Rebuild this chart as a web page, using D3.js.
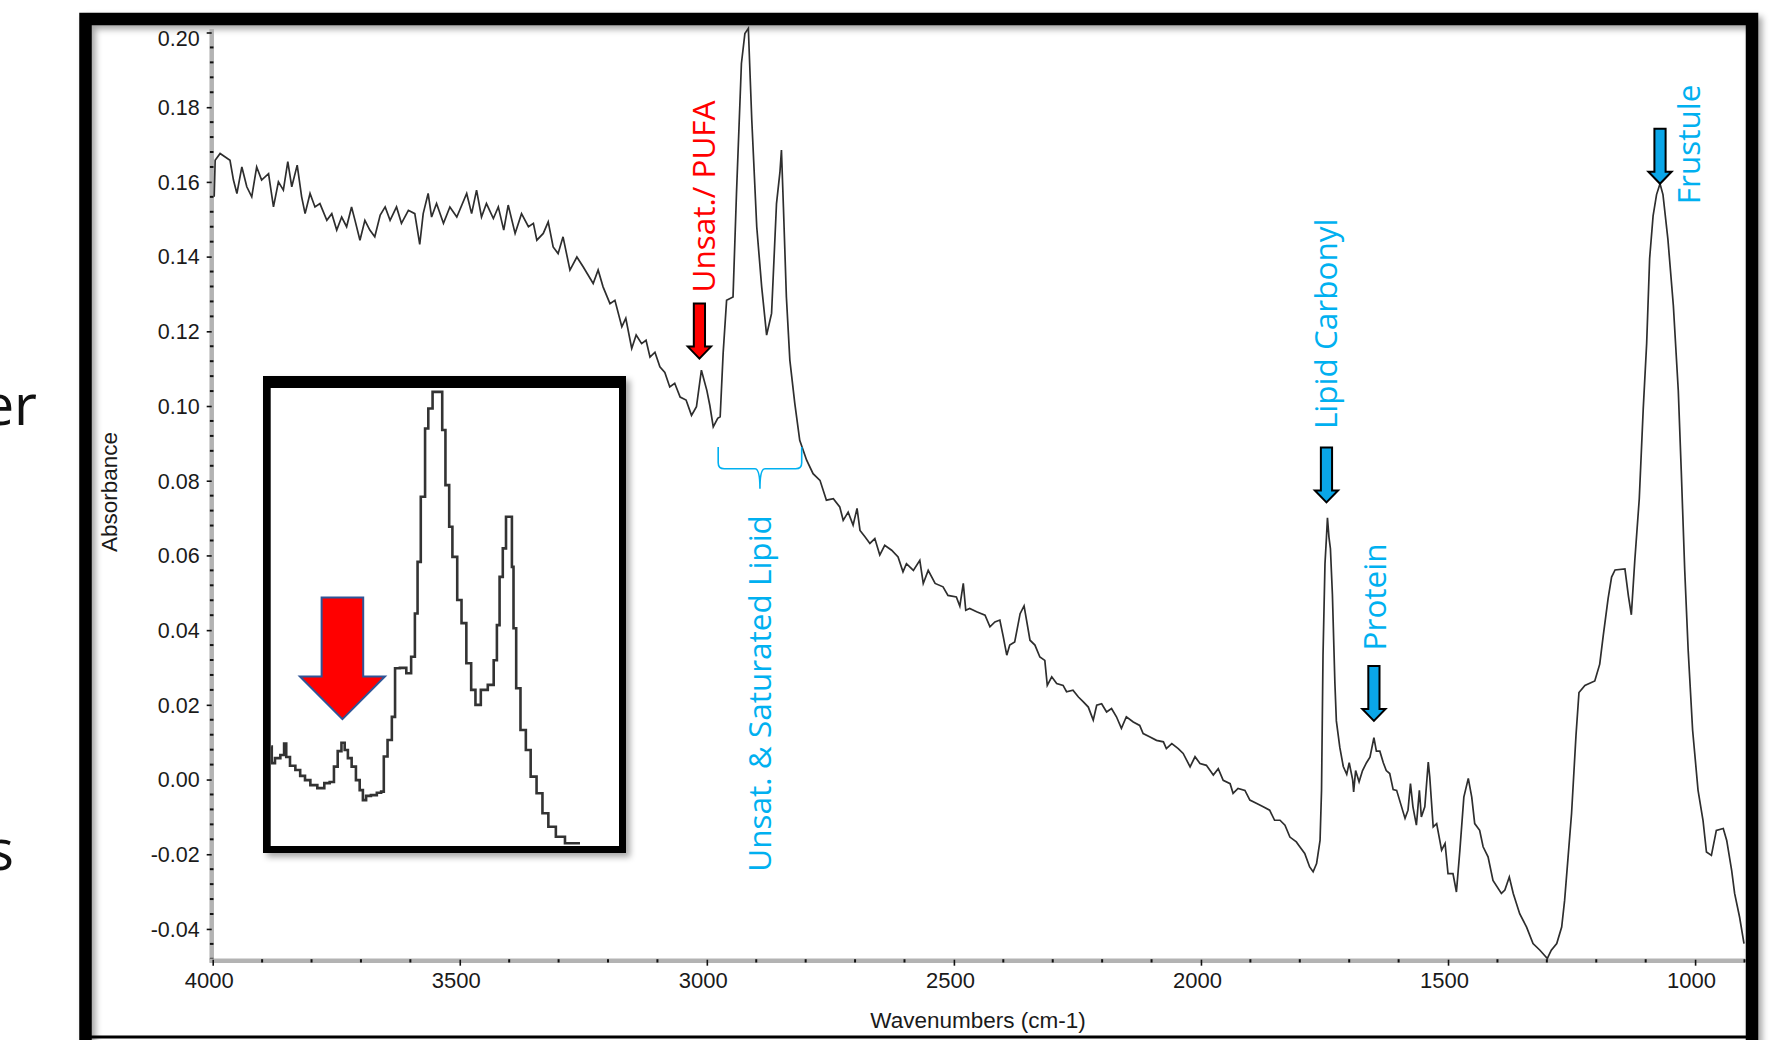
<!DOCTYPE html>
<html><head><meta charset="utf-8">
<script src="https://cdn.jsdelivr.net/npm/d3@7"></script>
<style>
html,body{margin:0;padding:0;background:#fff;overflow:hidden;}
svg{display:block;}
</style></head>
<body>
<svg id="chart" width="1791" height="1040"></svg>
<script>
// ---------------- DATA ----------------
const wavenumbers = [
3997,3995,3985,3965,3958,3951,3941,3931,3921,3911,3901,3887,3877,3867,3857,3848,3840,3829,3820,3813,
3803,3793,3783,3769,3759,3749,3739,3729,3719,3712,3702,3692,3682,3672,3661,3651,3641,3628,3618,3604,
3591,3581,3574,3564,3557,3547,3533,3520,3506,3486,3476,3466,3456,3446,3432,3422,3411,3402,3388,3375,
3361,3351,3344,3331,3321,3311,3301,3291,3277,3263,3250,3230,3220,3210,3196,3186,3172,3164,3152,3143,
3132,3123,3115,3105,3095,3085,3075,3065,3054,3042,3031,3021,3011,3000,2994,2987,2978,2973,2967,2960,
2947,2940,2930,2923,2916,2909,2899,2889,2879,2869,2859,2852,2849,2845,2839,2832,2822,2812,2798,2785,
2771,2758,2744,2731,2724,2714,2704,2696,2690,2680,2670,2660,2650,2640,2626,2613,2603,2596,2582,2569,
2562,2552,2538,2522,2512,2495,2488,2481,2476,2468,2454,2437,2427,2417,2407,2400,2393,2387,2377,2366,
2358,2353,2346,2336,2326,2316,2311,2302,2292,2279,2272,2259,2248,2238,2228,2218,2211,2201,2191,2181,
2171,2161,2151,2137,2124,2117,2103,2090,2076,2070,2059,2046,2036,2022,2012,2002,1989,1975,1965,1955,
1941,1935,1925,1911,1901,1887,1874,1861,1851,1840,1830,1820,1807,1800,1790,1780,1773,1766,1759,1756,
1753,1749,1746,1744,1741,1738,1734,1729,1726,1719,1712,1705,1700,1693,1691,1687,1680,1673,1665,1658,
1650,1645,1638,1631,1625,1618,1611,1604,1587,1581,1576,1571,1564,1558,1554,1547,1540,1537,1530,1523,
1513,1506,1500,1490,1483,1476,1468,1459,1452,1446,1436,1429,1419,1409,1392,1385,1376,1368,1355,1341,
1328,1314,1299,1291,1280,1270,1264,1257,1250,1241,1235,1223,1203,1193,1186,1176,1169,1162,1142,1135,
1129,1122,1113,1105,1098,1092,1085,1078,1071,1065,1055,1044,1034,1028,1021,1014,1005,994,984,977,
967,957,943,936,926,920,910,901
];
const absorbance = [
0.1560,0.1658,0.1676,0.1658,0.1605,0.1569,0.1640,0.1587,0.1560,0.1640,0.1605,0.1622,0.1533,0.1600,0.1578,0.1654,0.1587,0.1645,0.1560,0.1515,
0.1569,0.1533,0.1542,0.1497,0.1515,0.1471,0.1506,0.1480,0.1533,0.1497,0.1444,0.1497,0.1471,0.1453,0.1511,0.1533,0.1497,0.1533,0.1489,0.1524,
0.1515,0.1433,0.1515,0.1569,0.1506,0.1542,0.1489,0.1533,0.1506,0.1569,0.1515,0.1578,0.1506,0.1542,0.1502,0.1533,0.1471,0.1538,0.1462,0.1515,
0.1480,0.1489,0.1444,0.1462,0.1493,0.1426,0.1408,0.1453,0.1364,0.1399,0.1372,0.1328,0.1364,0.1319,0.1274,0.1283,0.1212,0.1235,0.1154,0.1190,
0.1167,0.1176,0.1131,0.1144,0.1105,0.1090,0.1051,0.1061,0.1024,0.1016,0.0975,0.0998,0.1096,0.1042,0.1002,0.0944,0.0967,0.0971,0.1141,0.1283,
0.1292,0.1569,0.1917,0.1997,0.2011,0.1765,0.1480,0.1319,0.1190,0.1248,0.1542,0.1627,0.1685,0.1533,0.1292,0.1123,0.1007,0.0908,0.0855,0.0819,
0.0801,0.0748,0.0752,0.0730,0.0694,0.0716,0.0681,0.0726,0.0667,0.0650,0.0632,0.0645,0.0601,0.0627,0.0614,0.0596,0.0556,0.0578,0.0560,0.0587,
0.0525,0.0560,0.0525,0.0516,0.0493,0.0489,0.0464,0.0525,0.0453,0.0458,0.0449,0.0440,0.0409,0.0422,0.0427,0.0382,0.0333,0.0360,0.0368,0.0444,
0.0465,0.0427,0.0373,0.0360,0.0328,0.0319,0.0252,0.0275,0.0257,0.0252,0.0235,0.0239,0.0221,0.0208,0.0194,0.0159,0.0199,0.0203,0.0181,0.0190,
0.0168,0.0137,0.0168,0.0154,0.0145,0.0123,0.0114,0.0105,0.0101,0.0083,0.0096,0.0083,0.0070,0.0034,0.0061,0.0043,0.0038,0.0012,0.0029,-0.0002,
-0.0011,-0.0037,-0.0024,-0.0029,-0.0055,-0.0064,-0.0073,-0.0082,-0.0109,-0.0109,-0.0122,-0.0154,-0.0167,-0.0180,-0.0198,-0.0234,-0.0247,-0.0225,-0.0163,-0.0029,
0.0332,0.0578,0.0649,0.0701,0.0649,0.0618,0.0496,0.0260,0.0157,0.0086,0.0035,0.0014,0.0045,-0.0001,-0.0033,0.0024,-0.0006,0.0024,0.0045,0.0060,
0.0112,0.0076,0.0076,0.0045,0.0024,0.0016,-0.0027,-0.0029,-0.0104,-0.0082,-0.0011,-0.0073,-0.0122,-0.0029,-0.0100,-0.0073,0.0047,0.0007,-0.0127,-0.0118,
-0.0189,-0.0171,-0.0252,-0.0252,-0.0301,-0.0189,-0.0047,0.0003,-0.0047,-0.0118,-0.0136,-0.0180,-0.0207,-0.0270,-0.0305,-0.0296,-0.0261,-0.0305,-0.0359,-0.0395,
-0.0439,-0.0457,-0.0479,-0.0457,-0.0439,-0.0395,-0.0323,-0.0207,-0.0091,0.0119,0.0233,0.0252,0.0264,0.0309,0.0384,0.0485,0.0542,0.0561,0.0564,0.0492,
0.0441,0.0587,0.0751,0.0991,0.1168,0.1395,0.1509,0.1566,0.1595,0.1566,0.1446,0.1269,0.1041,0.0827,0.0561,0.0346,0.0132,-0.0029,-0.0109,-0.0194,
-0.0203,-0.0136,-0.0131,-0.0163,-0.0243,-0.0305,-0.0368,-0.0439
];

// inset (zoom of the C-H stretch region)
const insetWavenumbers = [
3072,3071,3066,3061,3059,3057,3052,3047,3043,3038,3033,3025,3020,3015,3012,3008,3005,3002,2999,2995,
2991,2988,2985,2982,2976,2971,2968,2966,2961,2958,2955,2949,2943,2940,2936,2935,2930,2927,2924,2919,
2913,2912,2907,2905,2901,2896,2893,2887,2884,2879,2874,2866,2863,2860,2858,2854,2852,2848,2847,2845,
2842,2837,2832,2828,2821,2817,2810,2803,2793,2784
];
const insetAbsorbance = [
0.1090,0.1047,0.1060,0.1068,0.1098,0.1063,0.1040,0.1029,0.1014,0.1003,0.0990,0.0982,0.0995,0.0998,0.1038,0.1078,0.1100,0.1081,0.1060,0.1038,
0.1003,0.0977,0.0951,0.0962,0.0964,0.0970,0.0973,0.1064,0.1107,0.1167,0.1293,0.1294,0.1280,0.1323,0.1435,0.1569,0.1738,0.1915,0.1967,0.2010,
0.2010,0.1911,0.1768,0.1660,0.1582,0.1470,0.1410,0.1306,0.1237,0.1198,0.1237,0.1250,0.1314,0.1405,0.1530,0.1604,0.1686,0.1686,0.1556,0.1397,
0.1241,0.1133,0.1081,0.1012,0.0969,0.0917,0.0882,0.0856,0.0839,0.0839
];

const xTicks = [4000,3500,3000,2500,2000,1500,1000];
const xTickLabels = ["4000","3500","3000","2500","2000","1500","1000"];
const yTicks = [-0.04,-0.02,0.00,0.02,0.04,0.06,0.08,0.10,0.12,0.14,0.16,0.18,0.20];
const yTickLabels = ["-0.04","-0.02","0.00","0.02","0.04","0.06","0.08","0.10","0.12","0.14","0.16","0.18","0.20"];
const xTitle = "Wavenumbers (cm-1)";
const yTitle = "Absorbance";

// annotation labels with the band they point to (wavenumber, absorbance at arrow tip)
const annLabels = ["Unsat./ PUFA","Lipid Carbonyl","Protein","Frustule"];
const annWavenumber = [3015,1746,1650,1071];
const annAbsorbance = [0.1127,0.0742,0.0157,0.1595];
const braceLabel = "Unsat. & Saturated Lipid";
const braceRange = [2977,2808];

// ---------------- LAYOUT ----------------
const svg = d3.select("#chart");
const AX = "'Liberation Sans', Arial, Helvetica, sans-serif";
const SEG = "'Open Sans', 'Noto Sans', sans-serif";
const RED = "#ff0000", BLUE = "#00b0f0", ABLUE = "#0aa6e8";
const plot = {left:212.7, right:1745, top:31, bottom:960.7};

const x = d3.scaleLinear().domain([4000, 899]).range([plot.left, plot.right]);
const y = d3.scaleLinear().domain([-0.0485, 0.2004]).range([plot.bottom, plot.top]);

const defs = svg.append("defs");
const f = defs.append("filter").attr("id","shadow").attr("x","-10%").attr("y","-10%").attr("width","125%").attr("height","125%");
f.append("feDropShadow").attr("dx",4).attr("dy",4).attr("stdDeviation",3).attr("flood-color","#000").attr("flood-opacity",0.35);
defs.append("clipPath").attr("id","plotclip").append("rect")
  .attr("x",plot.left-2).attr("y",25).attr("width",plot.right-plot.left+2).attr("height",plot.bottom-25);

svg.append("rect").attr("width",1791).attr("height",1040).attr("fill","#fff");

// slide text partly hidden behind the left edge (as in the reference)
svg.append("text").attr("x",37).attr("y",425).attr("text-anchor","end")
  .attr("font-family",SEG).attr("font-size",56).attr("fill","#111").text("er");
svg.append("text").attr("x",14).attr("y",870).attr("text-anchor","end")
  .attr("font-family",SEG).attr("font-size",56).attr("fill","#111").text("s");

// outer frame
const frame = svg.append("g").attr("filter","url(#shadow)");
frame.append("path").attr("d","M85.5,1045V19H1752V1045").attr("fill","none").attr("stroke","#000").attr("stroke-width",12.5);
svg.append("line").attr("x1",80).attr("x2",1758).attr("y1",1037).attr("y2",1037).attr("stroke","#000").attr("stroke-width",3);

// ---------------- AXES ----------------
const axisX = 211.7;
const yAxis = d3.axisLeft(y).tickValues(yTicks).tickFormat((d,i)=>yTickLabels[i])
  .tickSizeInner(5).tickSizeOuter(0).tickPadding(7);
const gy = svg.append("g").attr("transform",`translate(${axisX},0)`).call(yAxis);
gy.select(".domain").attr("d",`M0,${plot.bottom+2}V${plot.top-2}`).attr("stroke","#b3b3b3").attr("stroke-width",4.5);
gy.selectAll(".tick line").attr("stroke","#111").attr("stroke-width",1.6);
gy.selectAll(".tick text").attr("font-family",AX).attr("font-size",21.5).attr("fill","#1a1a1a")
  .attr("dy",(d)=> d>0.199 ? "0.6em" : "0.34em");
// minor y ticks
const yMinor = d3.range(-0.048, 0.2001, 0.004).filter(v=>!yTicks.some(t=>Math.abs(t-v)<1e-6));
gy.selectAll(".minor").data(yMinor).join("line").attr("class","minor")
  .attr("x1",-1.8).attr("x2",1.8).attr("y1",d=>y(d)).attr("y2",d=>y(d))
  .attr("stroke","#111").attr("stroke-width",2);

const xAxis = d3.axisBottom(x).tickValues(xTicks).tickFormat((d,i)=>xTickLabels[i])
  .tickSizeInner(5).tickSizeOuter(0).tickPadding(7);
const gx = svg.append("g").attr("transform",`translate(0,${plot.bottom})`).call(xAxis);
gx.select(".domain").attr("d",`M${axisX-2},0H${plot.right}`).attr("stroke","#b3b3b3").attr("stroke-width",4.5);
gx.selectAll(".tick line").attr("stroke","#111").attr("stroke-width",1.6).attr("y1",-1);
gx.selectAll(".tick text").attr("font-family",AX).attr("font-size",22).attr("fill","#1a1a1a").attr("dx",-4);
const xMinor = d3.range(3900, 899, -100).filter(v=>v%500!==0);
gx.selectAll(".minor").data(xMinor).join("line").attr("class","minor")
  .attr("x1",d=>x(d)).attr("x2",d=>x(d)).attr("y1",-1.5).attr("y2",1.8)
  .attr("stroke","#111").attr("stroke-width",2);

svg.append("text").attr("x",978).attr("y",1028).attr("text-anchor","middle")
  .attr("font-family",AX).attr("font-size",22.5).attr("fill","#1a1a1a").text(xTitle);
svg.append("text").attr("transform","translate(117,492) rotate(-90)").attr("text-anchor","middle")
  .attr("font-family",AX).attr("font-size",22.5).attr("fill","#1a1a1a").text(yTitle);

// ---------------- MAIN SPECTRUM ----------------
const spectrum = wavenumbers.map((w,i)=>({w, a:absorbance[i]}));
const line = d3.line().x(d=>x(d.w)).y(d=>y(d.a));
svg.append("path").datum(spectrum).attr("clip-path","url(#plotclip)")
  .attr("d",line).attr("fill","none").attr("stroke","#2e2e2e").attr("stroke-width",1.7)
  .attr("stroke-linejoin","miter");

// ---------------- ANNOTATIONS ----------------
function arrowPath(tx, ty){
  const L=55, sw=5.6, hw=11.6, hh=12;
  return `M${tx-sw},${ty-L}H${tx+sw}V${ty-hh}H${tx+hw}L${tx},${ty}L${tx-hw},${ty-hh}H${tx-sw}Z`;
}
const annColor = [RED, BLUE, BLUE, BLUE];
const annFill = [RED, ABLUE, ABLUE, ABLUE];
const annTextOffset = [[15.7,-66],[11,-73.3],[12.5,-70.5],[40,20.4]];
annLabels.forEach((lab,i)=>{
  const tx = x(annWavenumber[i]), ty = y(annAbsorbance[i]);
  svg.append("path").attr("d",arrowPath(tx,ty)).attr("fill",annFill[i])
    .attr("stroke","#000").attr("stroke-width",2).attr("stroke-linejoin","miter");
  svg.append("text").attr("transform",`translate(${tx+annTextOffset[i][0]},${ty+annTextOffset[i][1]}) rotate(-90)`)
    .attr("font-family",SEG).attr("font-size",31.5).attr("fill",annColor[i]).text(lab);
});

// brace for the C-H stretch region
{
  const x0 = x(braceRange[0]), x1 = x(braceRange[1]), xc = (x0+x1)/2;
  const yTop = y(0.089), yMid = yTop+21.6, yTip = yTop+41.6;
  const d = `M${x0},${yTop}V${yMid-6}Q${x0},${yMid} ${x0+6},${yMid}H${xc-5}Q${xc},${yMid} ${xc},${yTip}`+
            `Q${xc},${yMid} ${xc+5},${yMid}H${x1-6}Q${x1},${yMid} ${x1},${yMid-6}V${yTop}`;
  svg.append("path").attr("d",d).attr("fill","none").attr("stroke",BLUE).attr("stroke-width",1.6);
  svg.append("text").attr("transform",`translate(${xc+11},${yTip+383}) rotate(-90)`)
    .attr("font-family",SEG).attr("font-size",31.5).attr("fill",BLUE).text(braceLabel);
}

// ---------------- INSET ----------------
const inset = {outerL:263, outerT:376, outerR:626, outerB:853, l:270.7, t:388, r:619, b:846};
const ix = d3.scaleLinear().domain([3072.5, 2747.6]).range([inset.l, inset.r]);
const iy = d3.scaleLinear().domain([0.0832, 0.202]).range([inset.b, inset.t]);
const gi = svg.append("g");
gi.append("rect").attr("x",inset.outerL).attr("y",inset.outerT)
  .attr("width",inset.outerR-inset.outerL).attr("height",inset.outerB-inset.outerT)
  .attr("fill","#000").attr("filter","url(#shadow)");
gi.append("rect").attr("x",inset.l).attr("y",inset.t).attr("width",inset.r-inset.l).attr("height",inset.b-inset.t).attr("fill","#fff");
defs.append("clipPath").attr("id","insetclip").append("rect")
  .attr("x",inset.l).attr("y",inset.t).attr("width",inset.r-inset.l).attr("height",inset.b-inset.t);
const insetPts = insetWavenumbers.map((w,i)=>({w, a:insetAbsorbance[i]}));
gi.append("path").datum(insetPts).attr("clip-path","url(#insetclip)")
  .attr("d", d3.line().x(d=>ix(d.w)).y(d=>iy(d.a)).curve(d3.curveStep))
  .attr("fill","none").attr("stroke","#333").attr("stroke-width",2.6);
// big red arrow in inset pointing at the PUFA band
{
  const tx = ix(3005.6), ty = iy(0.1161);
  const L=121.6, sw=20.8, hw=42.5, hh=42.6;
  gi.append("path").attr("d",`M${tx-sw},${ty-L}H${tx+sw}V${ty-hh}H${tx+hw}L${tx},${ty}L${tx-hw},${ty-hh}H${tx-sw}Z`)
    .attr("fill",RED).attr("stroke","#2f5597").attr("stroke-width",2);
}
</script>
</body></html>
